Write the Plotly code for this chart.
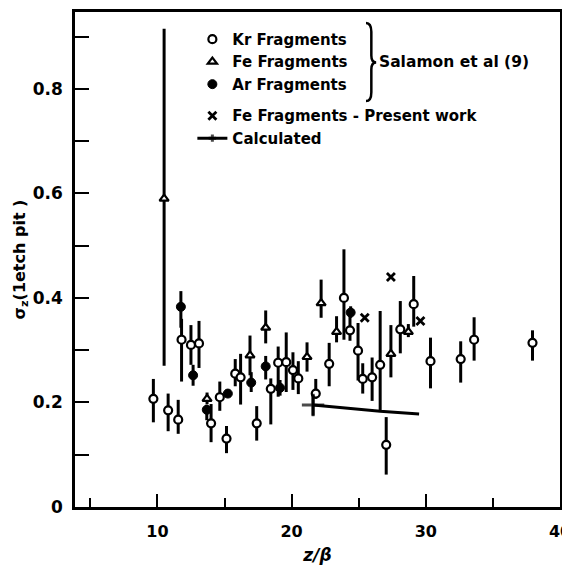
import plotly.graph_objects as go

# Kr fragments (Salamon et al)
kr_x = [9.7, 10.8, 11.55, 11.8, 12.5, 13.1, 14.0, 14.65, 15.15, 15.8, 16.2, 17.4, 18.45, 19.0, 19.6,
        20.1, 20.5, 21.8, 22.8, 23.9, 24.35, 24.95, 25.3, 26.0, 26.6, 27.05, 28.1, 29.1, 30.35, 32.6,
        33.6, 37.95]
kr_y = [0.207, 0.185, 0.167, 0.32, 0.31, 0.313, 0.16, 0.21, 0.131, 0.255, 0.248, 0.16, 0.226, 0.276,
        0.277, 0.262, 0.246, 0.217, 0.274, 0.40, 0.338, 0.299, 0.245, 0.248, 0.272, 0.119, 0.34, 0.388,
        0.279, 0.283, 0.32, 0.314]
kr_up = [0.038, 0.032, 0.038, 0.04, 0.038, 0.043, 0.037, 0.03, 0.024, 0.028, 0.045, 0.033, 0.02, 0.031,
         0.057, 0.034, 0.033, 0.028, 0.04, 0.093, 0.035, 0.053, 0.03, 0.038, 0.103, 0.053, 0.054, 0.054,
         0.045, 0.034, 0.043, 0.024]
kr_dn = [0.045, 0.04, 0.027, 0.08, 0.038, 0.047, 0.036, 0.026, 0.028, 0.024, 0.052, 0.033, 0.068, 0.065,
         0.057, 0.038, 0.03, 0.01, 0.043, 0.08, 0.02, 0.057, 0.028, 0.045, 0.09, 0.057, 0.046, 0.043,
         0.052, 0.045, 0.04, 0.034]

# Fe fragments (Salamon et al)
fe_x = [10.5, 13.7, 16.9, 18.07, 21.15, 22.2, 23.35, 27.4, 28.7]
fe_y = [0.59, 0.207, 0.29, 0.343, 0.287, 0.39, 0.335, 0.293, 0.335]
fe_up = [0.325, 0.012, 0.038, 0.033, 0.028, 0.045, 0.03, 0.055, 0.015]
fe_dn = [0.32, 0.01, 0.038, 0.03, 0.028, 0.028, 0.02, 0.045, 0.01]

# Ar fragments (Salamon et al)
ar_x = [11.75, 12.66, 13.68, 15.25, 16.99, 18.07, 19.14, 24.4]
ar_y = [0.383, 0.252, 0.186, 0.217, 0.238, 0.269, 0.228, 0.372]
ar_up = [0.03, 0.02, 0.01, 0.005, 0.02, 0.02, 0.015, 0.012]
ar_dn = [0.04, 0.02, 0.02, 0.005, 0.018, 0.025, 0.015, 0.01]

# Fe fragments - present work
pw_x = [25.45, 27.4, 29.6]
pw_y = [0.362, 0.44, 0.356]

# Calculated
calc_x = [21.6, 26.6, 29.5]
calc_y = [0.195, 0.183, 0.178]
calc_err = [0.02, 0.0, 0.0]

x_ticks = [10, 20, 30, 40]
y_ticks = [0, 0.2, 0.4, 0.6, 0.8]
y_ticktext = ["0", "0.2", "0.4", "0.6", "0.8"]

FONT = "DejaVu Sans"

fig = go.Figure()

def err(up, dn):
    return dict(type="data", symmetric=False, array=up, arrayminus=dn,
                color="black", thickness=3, width=0)

fig.add_trace(go.Scatter(
    x=kr_x, y=kr_y, mode="markers", name="Kr Fragments", legendgroup="s",
    error_y=err(kr_up, kr_dn),
    marker=dict(symbol="circle", size=8, color="white", line=dict(color="black", width=2.2))))
fig.add_trace(go.Scatter(
    x=fe_x, y=fe_y, mode="markers", name="Fe Fragments", legendgroup="s",
    error_y=err(fe_up, fe_dn),
    marker=dict(symbol="triangle-up", size=8, color="white", line=dict(color="black", width=2.2))))
fig.add_trace(go.Scatter(
    x=ar_x, y=ar_y, mode="markers", name="Ar Fragments", legendgroup="s",
    error_y=err(ar_up, ar_dn),
    marker=dict(symbol="circle", size=9, color="black", line=dict(color="black", width=1))))
fig.add_trace(go.Scatter(
    x=pw_x, y=pw_y, mode="markers", name="Fe Fragments - Present work", legendgroup="p",
    marker=dict(symbol="x-thin", size=8, color="black", line=dict(color="black", width=2.8))))
fig.add_trace(go.Scatter(
    x=calc_x, y=calc_y, mode="lines+markers", name="Calculated", legendgroup="p",
    line=dict(color="black", width=3),
    error_y=dict(type="data", array=calc_err, color="black", thickness=3, width=0),
    marker=dict(symbol="cross-thin", size=[16, 0, 0], color="black",
                line=dict(color="black", width=3))))

fig.add_shape(type="path", xref="paper", yref="paper",
              path="M 0.600,0.978 Q 0.611,0.978 0.611,0.960 L 0.611,0.912 Q 0.611,0.898 0.621,0.898 "
                   "Q 0.611,0.898 0.611,0.884 L 0.611,0.838 Q 0.611,0.820 0.600,0.820",
              line=dict(color="black", width=2.5))
fig.add_annotation(xref="paper", yref="paper", x=0.623, y=0.898, xanchor="left", yanchor="middle",
                   text="Salamon et al (9)", showarrow=False,
                   font=dict(family=FONT, size=15.5, color="black", weight="bold"))

fig.update_layout(
    width=570, height=582,
    margin=dict(l=67, r=18, t=1, b=83),
    paper_bgcolor="white", plot_bgcolor="white",
    font=dict(family=FONT, size=15, color="black", weight="bold"),
    showlegend=True,
    legend=dict(x=0.242, y=0.978, xanchor="left", yanchor="top", bgcolor="rgba(0,0,0,0)",
                tracegroupgap=9, font=dict(family=FONT, size=15, color="black", weight="bold"),
                itemwidth=30),
    xaxis=dict(range=[3.86, 40], tickvals=x_ticks, ticks="inside", ticklen=13, tickwidth=2,
               tickcolor="black", showline=True, linewidth=2.5, linecolor="black", mirror=True,
               showgrid=False, zeroline=False, ticklabelstandoff=8,
               minor=dict(dtick=5, tick0=0, ticks="inside", ticklen=9, tickwidth=2, tickcolor="black"),
               tickfont=dict(family=FONT, size=16, weight="bold"),
               title=dict(text="<i>z/β</i>", font=dict(family=FONT, size=17, weight="bold"), standoff=10)),
    yaxis=dict(range=[0, 0.947], tickvals=y_ticks, ticktext=y_ticktext, ticks="inside", ticklen=14,
               tickwidth=2, tickcolor="black", showline=True, linewidth=2.5, linecolor="black",
               mirror=True, showgrid=False, zeroline=False, ticklabelstandoff=6,
               minor=dict(dtick=0.1, tick0=0, ticks="inside", ticklen=14, tickwidth=2, tickcolor="black"),
               tickfont=dict(family=FONT, size=17, weight="bold"),
               title=dict(text="σ<sub>z</sub>(1etch pit )", font=dict(family=FONT, size=16, weight="bold"),
                          standoff=4)),
)

fig.write_html("out.html")
